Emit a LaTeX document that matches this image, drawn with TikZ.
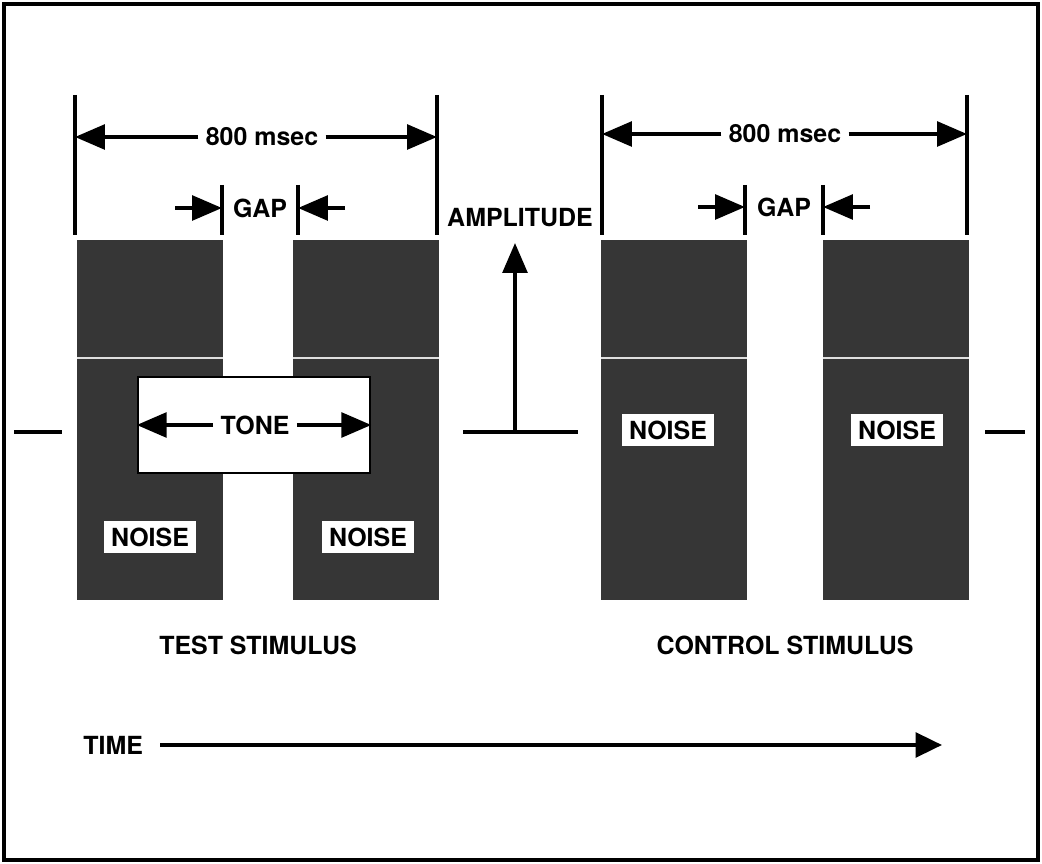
\documentclass[tikz,border=0pt]{standalone}
\usepackage{fontspec}
\setmainfont{TeX Gyre Heros}
\usetikzlibrary{positioning,arrows.meta}
\definecolor{noisegray}{HTML}{363636}

\tikzset{
  lbl/.style={font=\fontsize{14.2}{17}\selectfont\bfseries, inner sep=4pt},
  noiseblk/.style={fill=noisegray, inner sep=0pt, minimum width=2.92cm, minimum height=7.2cm},
  noiselbl/.style={lbl, fill=white, inner xsep=4pt, inner ysep=4pt},
  tick/.style={line width=1.8pt},
  dimarrow/.style={line width=2.2pt, -{Triangle[length=17pt,width=14pt]}},
}

\begin{document}
\begin{tikzpicture}[x=0.02cm,y=-0.02cm]
\useasboundingbox (0,0) rectangle (1042,864);
\draw[line width=2.5pt] (4,4) rectangle (1038,860);

% noise bursts
\node[noiseblk] (t1) at (150,420) {};
\node[noiseblk] (t2) at (366,420) {};
\node[noiseblk] (c1) at (674,420) {};
\node[noiseblk] (c2) at (896,420) {};
\foreach \b in {t1,t2,c1,c2}
  \draw[white!75!gray, line width=0.6pt] (\b.west |- 0,358) -- (\b.east |- 0,358);

% tone
\node[draw, line width=1.5pt, fill=white, minimum width=4.64cm, minimum height=1.92cm] (tone) at (254,425) {};
\node[lbl] (tonelbl) at (255,425) {TONE};
\draw[dimarrow] (tonelbl) -- (tone.west);
\draw[dimarrow] (tonelbl) -- (tone.east);

\node[noiselbl] (tn1) at (150,537) {NOISE};
\node[noiselbl] (tn2) at (368,537) {NOISE};
\node[noiselbl] (cn1) at (668,430) {NOISE};
\node[noiselbl] (cn2) at (897,430) {NOISE};

% test stimulus marks
\draw[tick] (75,95) -- (75,235);
\draw[tick] (437,95) -- (437,235);
\draw[tick] (222,185) -- (222,235);
\draw[tick] (298,185) -- (298,235);
\node[lbl] (tdur) at (262,137) {800 msec};
\coordinate (tdurL) at (75,137);
\coordinate (tdurR) at (437,137);
\draw[dimarrow] (tdur) -- (tdurL);
\draw[dimarrow] (tdur) -- (tdurR);
\node[lbl] (tgap) at (260,208) {GAP};
\coordinate (tgapA) at (175,208);
\coordinate (tgapB) at (222,208);
\coordinate (tgapC) at (345,208);
\coordinate (tgapD) at (298,208);
\draw[dimarrow] (tgapA) -- (tgapB);
\draw[dimarrow] (tgapC) -- (tgapD);

% control stimulus marks
\draw[tick] (602,95) -- (602,235);
\draw[tick] (967,95) -- (967,235);
\draw[tick] (745,185) -- (745,235);
\draw[tick] (823,185) -- (823,235);
\node[lbl] (cdur) at (785,134) {800 msec};
\coordinate (cdurL) at (602,134);
\coordinate (cdurR) at (967,134);
\draw[dimarrow] (cdur) -- (cdurL);
\draw[dimarrow] (cdur) -- (cdurR);
\node[lbl] (cgap) at (784,207) {GAP};
\coordinate (cgapA) at (698,207);
\coordinate (cgapB) at (745,207);
\coordinate (cgapC) at (870,207);
\coordinate (cgapD) at (823,207);
\draw[dimarrow] (cgapA) -- (cgapB);
\draw[dimarrow] (cgapC) -- (cgapD);

% amplitude axis
\node[lbl] (amp) at (520,218) {AMPLITUDE};
\coordinate (ampbase) at (515,432);
\coordinate (amptip) at (515,243);
\draw[line width=2.2pt] (463,432) -- (578,432);
\draw[dimarrow] (ampbase) -- (amptip);
\draw[line width=2.2pt] (14,432) -- (62,432);
\draw[line width=2.2pt] (985,432) -- (1025,432);

\node[lbl] (tstim) at (258,645) {TEST STIMULUS};
\node[lbl] (cstim) at (785,645) {CONTROL STIMULUS};

% time axis
\node[lbl, anchor=west] (time) at (76,745) {TIME};
\coordinate (timeA) at (160,745);
\coordinate (timeB) at (942,745);
\draw[line width=2.2pt, -{Triangle[length=15pt,width=14pt]}] (timeA) -- (timeB);
\end{tikzpicture}
\end{document}
